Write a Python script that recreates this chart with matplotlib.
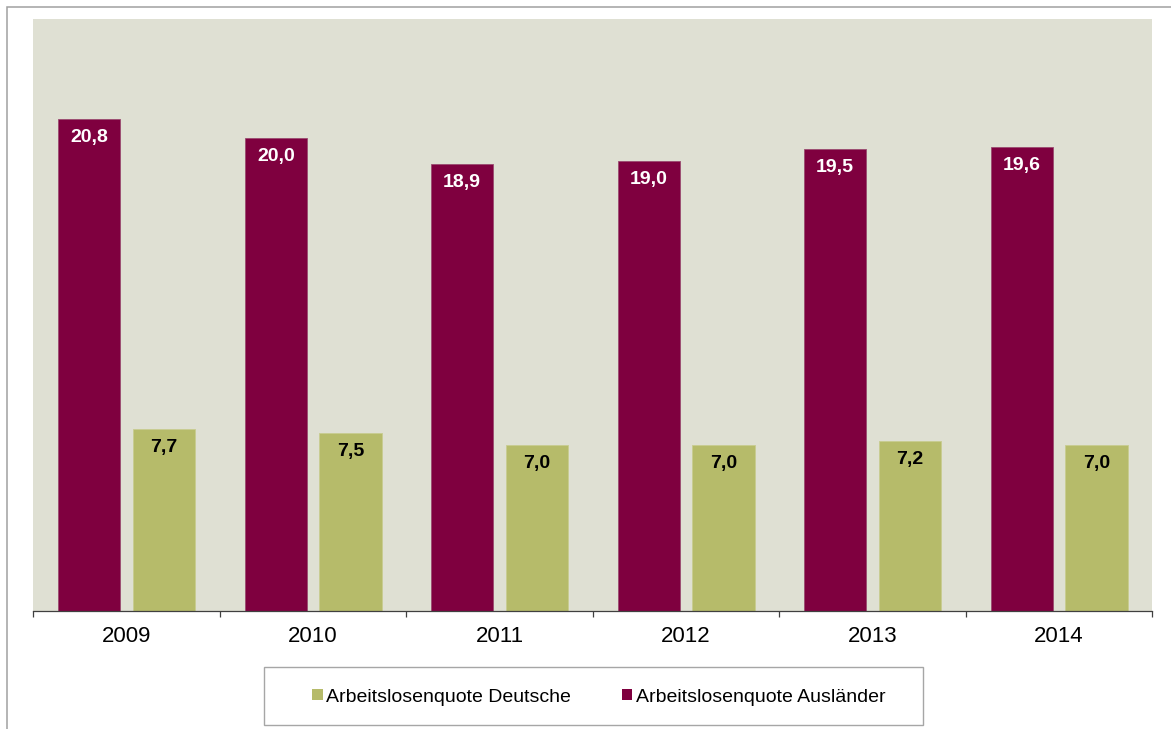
import matplotlib.pyplot as plt
from matplotlib.patches import Patch, Rectangle
import numpy as np

# Arbeitslosenquoten in Prozent
Years = ["2009", "2010", "2011", "2012", "2013", "2014"]
Deutsche = [7.7, 7.5, 7.0, 7.0, 7.2, 7.0]
Auslaender = [20.8, 20.0, 18.9, 19.0, 19.5, 19.6]

Label_Deutsche = "Arbeitslosenquote Deutsche"
Label_Auslaender = "Arbeitslosenquote Ausländer"

Color_Deutsche = "#B6BB6A"
Color_Auslaender = "#7F003F"
Color_Background = "#DFE0D3"

plt.rcParams['font.family'] = ['Liberation Sans', 'DejaVu Sans']

W, H = 1171, 729


def fmt(v):  # German decimal comma
    return ("%.1f" % v).replace(".", ",")


def plot():
    fig = plt.figure(figsize=(W / 100, H / 100), dpi=100)
    ax = fig.add_axes([33.3 / W, (H - 611) / H, 1119 / W, 591.7 / H])
    ax.set_facecolor(Color_Background)

    x_pos = np.arange(len(Years))
    width = 0.335
    r1 = ax.bar(x_pos - 0.2, Auslaender, width, color=Color_Auslaender,
                edgecolor="#9A4A70", linewidth=0.6, zorder=2)
    r2 = ax.bar(x_pos + 0.2, Deutsche, width, color=Color_Deutsche,
                edgecolor="#C8CC90", linewidth=0.6, zorder=2)

    # value labels just below the top of each bar
    for rect, v in zip(r1, Auslaender):
        ax.annotate(fmt(v), (rect.get_x() + rect.get_width() / 2, v),
                    xytext=(0, -18.5), textcoords="offset pixels",
                    ha="center", va="center", color="white",
                    fontsize=14, fontweight="bold", zorder=3)
    for rect, v in zip(r2, Deutsche):
        ax.annotate(fmt(v), (rect.get_x() + rect.get_width() / 2, v),
                    xytext=(0, -18.5), textcoords="offset pixels",
                    ha="center", va="center", color="black",
                    fontsize=14, fontweight="bold", zorder=3)

    ax.set_xlim(-0.5, len(Years) - 0.5)
    ax.set_ylim(0, 25)
    ax.set_yticks([])
    ax.set_xticks(x_pos)
    ax.set_xticklabels(Years, fontsize=16)
    ax.set_xticks(np.arange(-0.5, len(Years)), minor=True)
    ax.tick_params(axis="x", which="major", length=0, pad=11)
    ax.tick_params(axis="x", which="minor", length=4.4, width=0.9, color="#404040")
    for side in ["top", "right", "left"]:
        ax.spines[side].set_visible(False)
    ax.spines["bottom"].set_color("#404040")
    ax.spines["bottom"].set_linewidth(0.9)

    # legend box below the chart
    fig.patches.append(Rectangle((264 / W, 1 - 725 / H), 659 / W, 58 / H,
                                 transform=fig.transFigure, fill=False,
                                 edgecolor="#A6A6A6", linewidth=1.0))
    handles = [Patch(facecolor=Color_Deutsche, label=Label_Deutsche),
               Patch(facecolor=Color_Auslaender, label=Label_Auslaender)]
    fig.legend(handles=handles, loc="center", bbox_to_anchor=(599 / W, 1 - 697 / H),
               ncol=2, frameon=False, fontsize=14, handlelength=0.52,
               handleheight=0.52, handletextpad=0.2, columnspacing=2.6)

    # outer frame of the chart area
    fig.patches.append(Rectangle((7.3 / W, -0.1), 1.2, 1.1 - 7.3 / H,
                                 transform=fig.transFigure, fill=False,
                                 edgecolor="#A0A0A0", linewidth=1.1))

    fig.savefig("out.png", dpi=100)


plot()
